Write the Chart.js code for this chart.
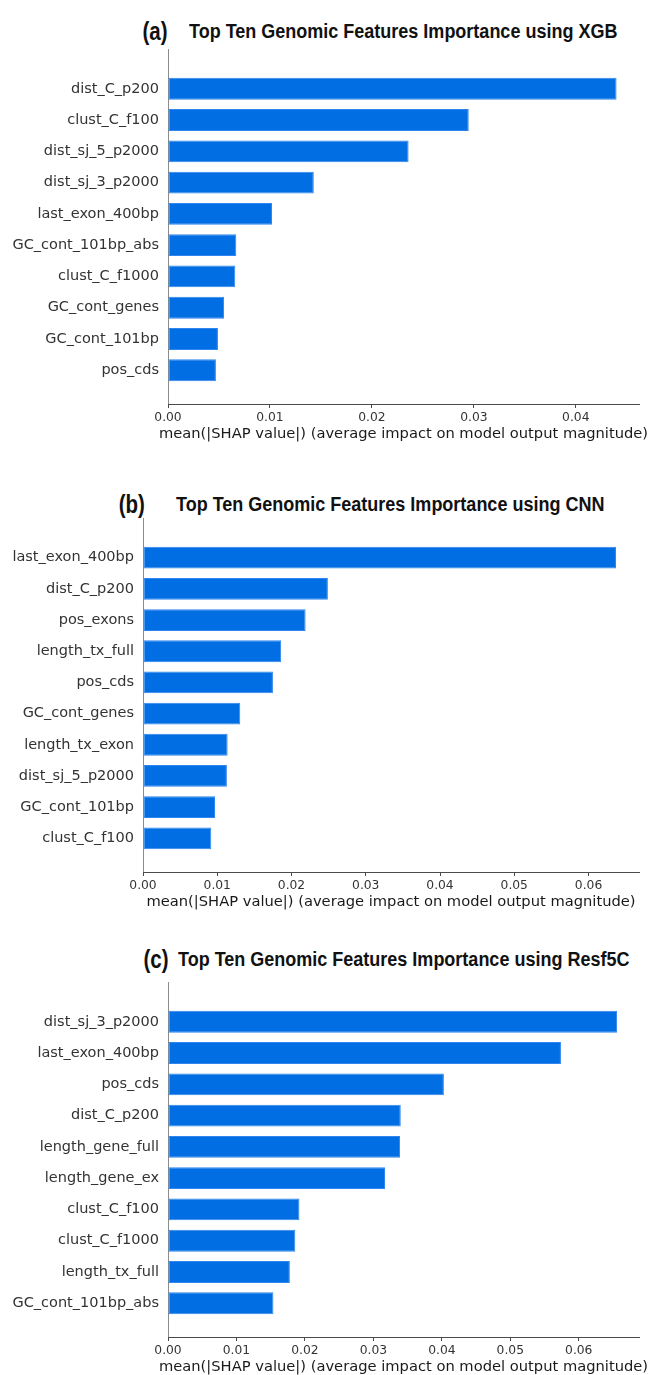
<!DOCTYPE html>
<html>
<head>
<meta charset="utf-8">
<script src="https://cdn.jsdelivr.net/npm/chart.js@4/dist/chart.umd.min.js"></script>
<style>
html, body { margin: 0; padding: 0; background: #fff; width: 651px; height: 1375px; overflow: hidden; position: relative; }
.panel { position: absolute; left: 0; width: 651px; }
.tag, .name { position: absolute; font-family: 'Liberation Sans', Arial, sans-serif; font-weight: bold; color: #111; white-space: nowrap; }
.tag { font-size: 25px; line-height: 26px; transform: scaleX(0.82); transform-origin: right center; }
.name { font-size: 20px; line-height: 20px; transform: scaleX(0.9); transform-origin: left center; }
</style>
</head>
<body>

<div class="tag" style="right:483px; top:18px;">(a)</div>
<div class="name" style="left:189px; top:21px;">Top Ten Genomic Features Importance using XGB</div>
<div class="panel" style="top:32px; height:414px;"><canvas id="chartA"></canvas></div>

<div class="tag" style="right:506px; top:491px;">(b)</div>
<div class="name" style="left:176px; top:494px;">Top Ten Genomic Features Importance using CNN</div>
<div class="panel" style="top:501px; height:413px;"><canvas id="chartB"></canvas></div>

<div class="tag" style="right:482px; top:946px;">(c)</div>
<div class="name" style="left:178px; top:949px;">Top Ten Genomic Features Importance using Resf5C</div>
<div class="panel" style="top:965px; height:414px;"><canvas id="chartC"></canvas></div>

<script>
// 数据（从上到下）
const labelsA = ['dist_C_p200', 'clust_C_f100', 'dist_sj_5_p2000', 'dist_sj_3_p2000', 'last_exon_400bp',
    'GC_cont_101bp_abs', 'clust_C_f1000', 'GC_cont_genes', 'GC_cont_101bp', 'pos_cds'];
const valuesA = [0.0440, 0.0295, 0.0236, 0.0143, 0.0102, 0.0067, 0.0066, 0.0055, 0.0049, 0.0047];

const labelsB = ['last_exon_400bp', 'dist_C_p200', 'pos_exons', 'length_tx_full', 'pos_cds',
    'GC_cont_genes', 'length_tx_exon', 'dist_sj_5_p2000', 'GC_cont_101bp', 'clust_C_f100'];
const valuesB = [0.0637, 0.0249, 0.0219, 0.0186, 0.0175, 0.0131, 0.0114, 0.0113, 0.0097, 0.0092];

const labelsC = ['dist_sj_3_p2000', 'last_exon_400bp', 'pos_cds', 'dist_C_p200', 'length_gene_full',
    'length_gene_ex', 'clust_C_f100', 'clust_C_f1000', 'length_tx_full', 'GC_cont_101bp_abs'];
const valuesC = [0.0656, 0.0574, 0.0403, 0.0340, 0.0339, 0.0317, 0.0192, 0.0186, 0.0178, 0.0154];

const xTitle = 'mean(|SHAP value|) (average impact on model output magnitude)';

const BAR_COLOR = '#016ee4';
const FONT = "'DejaVu Sans', sans-serif";

// x轴标题自己画（Chart.js 会按轴宽压缩文字）
const xTitlePlugin = {
    id: 'xTitle',
    afterDraw(chart) {
        const s = chart.scales.x;
        const ctx = chart.ctx;
        ctx.save();
        ctx.font = `14.7px ${FONT}`;
        ctx.fillStyle = '#1a1a1a';
        ctx.textAlign = 'center';
        ctx.textBaseline = 'middle';
        ctx.fillText(xTitle, (s.left + s.right) / 2, s.top + 30);
        ctx.restore();
    }
};

// 画一个面板
function makeChart(id, labels, values, axisLeft, xMax) {
    const ctx = document.getElementById(id).getContext('2d');
    return new Chart(ctx, {
        type: 'bar',
        data: {
            datasets: [{
                data: values.map((v, i) => ({ x: v, y: i })),
                backgroundColor: BAR_COLOR,
                borderColor: '#2f86ee',
                borderWidth: 1,
                borderSkipped: false,
                barPercentage: 0.7,
                categoryPercentage: 1
            }]
        },
        options: {
            indexAxis: 'y',
            responsive: true,
            maintainAspectRatio: false,
            animation: false,
            layout: { padding: { top: 0, right: 12, left: 0, bottom: 0 } },
            plugins: {
                legend: { display: false },
                tooltip: { enabled: false }
            },
            scales: {
                y: {
                    type: 'linear',
                    reverse: true,
                    offset: false,
                    min: -1.25,
                    max: 10.08,
                    afterBuildTicks: s => { s.ticks = labels.map((_, i) => ({ value: i })); },
                    afterFit: s => { s.width = axisLeft; },
                    grid: { display: true, offset: false, drawOnChartArea: false, drawTicks: false },
                    border: { display: true, color: '#8c8c8c', width: 1 },
                    ticks: {
                        autoSkip: false,
                        padding: 9,
                        color: '#333',
                        font: { family: FONT, size: 14.5 },
                        callback: v => labels[v]
                    }
                },
                x: {
                    type: 'linear',
                    min: 0,
                    max: xMax,
                    afterFit: s => { s.height = 42; },
                    grid: { display: true, drawOnChartArea: false, drawTicks: true, tickLength: 4, color: '#4a4a4a' },
                    border: { display: true, color: '#4a4a4a', width: 1 },
                    ticks: {
                        stepSize: 0.01,
                        includeBounds: false,
                        padding: 2,
                        color: '#333',
                        font: { family: FONT, size: 12.3 },
                        callback: v => v.toFixed(2)
                    },
                    title: { display: false }
                }
            }
        },
        plugins: [xTitlePlugin]
    });
}

document.addEventListener('DOMContentLoaded', () => {
    makeChart('chartA', labelsA, valuesA, 168, 0.0462);
    makeChart('chartB', labelsB, valuesB, 143, 0.0668);
    makeChart('chartC', labelsC, valuesC, 168, 0.0688);
});
</script>
</body>
</html>
